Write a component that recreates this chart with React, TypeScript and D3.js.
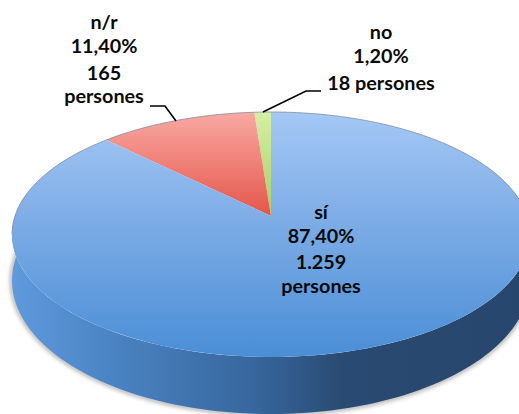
import React from "react";
import * as d3 from "d3";

const categories = ["no", "n/r", "sí"];
const shares = [1.2, 11.4, 87.4];
const labelLines = [
  ["no", "1,20%", "18 persones"],
  ["n/r", "11,40%", "165", "persones"],
  ["sí", "87,40%", "1.259", "persones"],
];

const W = 519, H = 414;
const CX = 271, CY = 216, A = 256, B = 119.7, K = 0.151;
const BASE_DY = 44.4, BASE_SCALE = 1.09;

// a slice angle measured counter-clockwise from 12 o'clock, in a tilted disc seen in perspective
const project = (t: number): [number, number] => {
  const u = -Math.sin(t), v = Math.cos(t);
  const w = 1 + K * v;
  return [CX + (A * u) / w, CY - (B * v) / w];
};
const projectBase = (t: number): [number, number] => {
  const [x, y] = project(t);
  return [x, CY + BASE_DY + BASE_SCALE * (y - CY)];
};

const pie = d3.pie<number>().sort(null).value((d) => d);
const arcs = pie(shares);
const line = d3.line();

const rim = (a0: number, a1: number, f = project) =>
  d3.range(0, 121).map((i) => f(a0 + ((a1 - a0) * i) / 120));

const slicePath = (a0: number, a1: number) =>
  line([[CX, CY], ...rim(a0, a1)])! + "Z";

// the part of the wall that faces the viewer: from the left extreme round the front to the right extreme
const wallStart = Math.PI / 2 - 0.2;
const wallEnd = (3 * Math.PI) / 2 + 0.2;
const wallPath =
  line([...rim(wallStart, wallEnd), ...rim(wallEnd, wallStart, projectBase)])! + "Z";
const shadowPath = line(rim(wallStart, wallEnd, projectBase))! + "Z";

const fills = ["url(#gGreen)", "url(#gRed)", "url(#gBlue)"];
const labelPos = [
  { x: 381, ys: [39, 63, 90] },
  { x: 104, ys: [29, 53, 80, 103] },
  { x: 321, ys: [219, 243, 269, 293] },
];
const leaders: [number, number][][] = [
  [[321, 91], [306, 91], [263, 112]],
  [[150, 106], [165, 106], [176, 121]],
];

export default function App() {
  return (
    <svg
      width={W}
      height={H}
      viewBox={`0 0 ${W} ${H}`}
      style={{ position: "absolute", left: 0, top: 0, background: "#fff" }}
    >
      <defs>
        <linearGradient id="gBlue" gradientUnits="userSpaceOnUse" x1={0} y1={112} x2={0} y2={357}>
          <stop offset="0" stopColor="#a5c8f5" />
          <stop offset="0.5" stopColor="#78a9e4" />
          <stop offset="1" stopColor="#4a8ed6" />
        </linearGradient>
        <linearGradient id="gRed" gradientUnits="userSpaceOnUse" x1={0} y1={112} x2={0} y2={216}>
          <stop offset="0" stopColor="#f9a9a3" />
          <stop offset="1" stopColor="#e4564b" />
        </linearGradient>
        <linearGradient id="gGreen" gradientUnits="userSpaceOnUse" x1={0} y1={112} x2={0} y2={216}>
          <stop offset="0" stopColor="#d6efa6" />
          <stop offset="1" stopColor="#a9cf5f" />
        </linearGradient>
        <linearGradient id="gWall" gradientUnits="userSpaceOnUse" x1={12} y1={0} x2={530} y2={0}>
          <stop offset="0" stopColor="#5f9ade" />
          <stop offset="0.2" stopColor="#4a83c2" />
          <stop offset="0.48" stopColor="#36659b" />
          <stop offset="0.64" stopColor="#294a72" />
          <stop offset="1" stopColor="#27466e" />
        </linearGradient>
        <filter id="soft" x="-5%" y="-5%" width="110%" height="115%">
          <feGaussianBlur stdDeviation="2" />
        </filter>
      </defs>
      <path d={shadowPath} fill="none" stroke="#666" strokeWidth={4} opacity={0.55} filter="url(#soft)" />
      <path d={wallPath} fill="url(#gWall)" />
      {arcs.map((a, i) => (
        <path
          key={categories[i]}
          d={slicePath(a.startAngle, a.endAngle)}
          fill={fills[i]}
        />
      ))}
      <path
        d={line(rim(-Math.PI / 2 - 0.15, Math.PI / 2 + 0.15))!}
        fill="none"
        stroke="#7d8ea3"
        strokeWidth={0.8}
      />
      {leaders.map((l, i) => (
        <path key={i} d={line(l)!} fill="none" stroke="#000" strokeWidth={1.6} />
      ))}
      {labelLines.map((lines, i) => (
        <text
          key={categories[i]}
          textAnchor="middle"
          fontFamily="Lato, sans-serif"
          fontWeight={700}
          fontSize={19.8}
          fill="#0a0a0a"
        >
          {lines.map((s, j) => (
            <tspan key={j} x={labelPos[i].x} y={labelPos[i].ys[j]}>
              {s}
            </tspan>
          ))}
        </text>
      ))}
    </svg>
  );
}
